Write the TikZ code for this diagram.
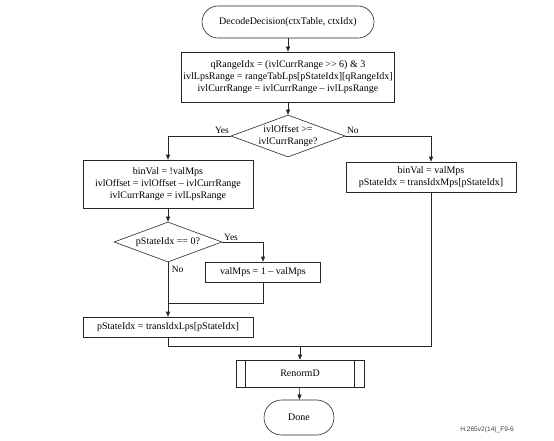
\documentclass[tikz,border=0pt]{standalone}
\usepackage{fontspec}
\setmainfont{Liberation Serif}
\setsansfont{Liberation Sans}
\usetikzlibrary{shapes.geometric,arrows.meta,calc}
\begin{document}
\begin{tikzpicture}[x=1pt,y=1pt,
  every node/.style={font=\fontsize{10}{12}\selectfont},
  box/.style={draw, rectangle, align=center, inner sep=0pt},
  term/.style={draw, rectangle, rounded corners=#1, inner sep=0pt},
  dec/.style={draw, diamond, aspect=2.7, inner sep=0pt},
  dectext/.style={align=center, inner sep=0pt},
  lbl/.style={font=\fontsize{9.5}{10}\selectfont, inner sep=1.5pt},
  arr/.style={-{Triangle[length=5pt,width=4pt]}},
  line width=0.6pt, draw=black!85]
\useasboundingbox (0,0) rectangle (554,-441);

\node[term=16pt, minimum width=172pt, minimum height=32pt] (start) at (288,-22) {DecodeDecision(ctxTable, ctxIdx)};
\node[box, minimum width=213pt, minimum height=50pt] (b1) at (288,-77)
  {qRangeIdx = (ivlCurrRange {>}{>} 6) \& 3\\ivlLpsRange = rangeTabLps[pStateIdx][qRangeIdx]\\ivlCurrRange = ivlCurrRange – ivlLpsRange};
\node[dec, minimum width=114pt, minimum height=42pt] (d1) at (288,-136) {};
\node[dectext] (d1t) at (d1) {ivlOffset {>}=\\ivlCurrRange?};
\node[box, minimum width=170pt, minimum height=48pt] (b2) at (168,-184)
  {binVal = !valMps\\ivlOffset = ivlOffset – ivlCurrRange\\ivlCurrRange = ivlLpsRange};
\node[box, minimum width=170pt, minimum height=30pt] (b3) at (431,-177)
  {binVal = valMps\\pStateIdx = transIdxMps[pStateIdx]};
\node[dec, minimum width=108pt, minimum height=40pt] (d2) at (168,-242) {};
\node[dectext] (d2t) at (d2) {pStateIdx == 0?};
\node[box, minimum width=115pt, minimum height=20pt] (b4) at (263,-272) {valMps = 1 – valMps};
\node[box, minimum width=170pt, minimum height=20pt] (b5) at (168,-327) {pStateIdx = transIdxLps[pStateIdx]};
\node[box, minimum width=128pt, minimum height=27pt] (renorm) at (300,-373.5) {RenormD};
\draw ([xshift=10pt]renorm.north west) -- ([xshift=10pt]renorm.south west);
\draw ([xshift=-10pt]renorm.north east) -- ([xshift=-10pt]renorm.south east);
\node[term=17.5pt, minimum width=70pt, minimum height=35pt] (done) at (299,-417.5) {Done};

\draw[arr] (start) -- (b1);
\draw[arr] (b1) -- (d1);
\draw[arr] (d1.west) -| (b2.north);
\node[lbl, anchor=south east] (yes1) at ([yshift=1pt]d1.west) {Yes};
\draw[arr] (d1.east) -| (b3.north);
\node[lbl, anchor=south west] (no1) at ([yshift=1pt]d1.east) {No};
\draw[arr] (b2) -- (d2);
\draw[arr] (d2.east) -| (b4.north);
\node[lbl, anchor=south west] (yes2) at (d2.east) {Yes};
\draw[arr] (d2.south) -- (b5.north);
\node[lbl, anchor=north west] (no2) at ([xshift=2pt,yshift=-2pt]d2.south) {No};
\coordinate (j1) at (168,-303);
\draw (b4.south) |- (j1);
\coordinate (j2) at (300,-346);
\draw (b5.south) |- (j2);
\draw (b3.south) |- (j2);
\draw[arr] (j2) -- (renorm);
\draw[arr] (renorm) -- (done);

\node[font=\sffamily\fontsize{6.6}{7.5}\selectfont, text=black!75, anchor=west, inner sep=0pt] (fig) at (460,-430) {H.265v2(14)\_F9-6};
\end{tikzpicture}
\end{document}
